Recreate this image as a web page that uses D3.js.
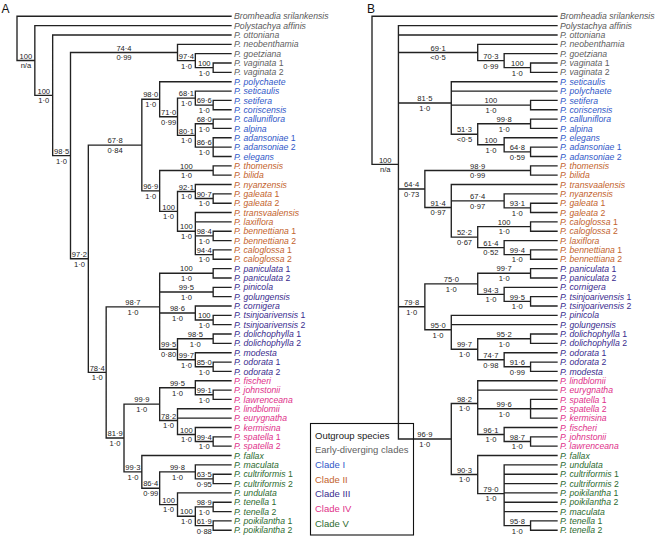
<!DOCTYPE html>
<html><head><meta charset="utf-8">
<script src="https://cdn.jsdelivr.net/npm/d3@7"></script>
<style>body{margin:0;background:#fff}svg{display:block}</style>
</head><body><svg id="c" width="657" height="538"></svg>
<script>
// ---- DATA ----
// Tree topologies (Newick); internal node labels = bootstrap/posterior
const treeA = "(Bromheadia srilankensis,(Polystachya affinis,(P. ottoniana,((P. neobenthamia,(P. goetziana,(P. vaginata 1,P. vaginata 2)100/1·0)97·4/1·0)74·4/0·99,(((P. polychaete,((P. seticaulis,(P. setifera,P. coriscensis)69·6/1·0)68·1/1·0,((P. calluniflora,P. alpina)68·0/1·0,(P. adansoniae 1,P. adansoniae 2,P. elegans)86·6/1·0)80·1/1·0)71·0/0·99)98·0/1·0,((P. thomensis,P. bilida)100/1·0,((P. nyanzensis,(P. galeata 1,P. galeata 2)90·7/1·0)92·1/1·0,(P. transvaalensis,P. laxiflora,(P. bennettiana 1,P. bennettiana 2)98·4/1·0,(P. caloglossa 1,P. caloglossa 2)94·4/1·0)100/1·0)100/1·0)96·9/1·0)67·8/0·84,(((P. paniculata 1,P. paniculata 2)100/1·0,(P. pinicola,P. golungensis)99·5/1·0,(P. cornigera,(P. tsinjoarivensis 1,P. tsinjoarivensis 2)100/1·0)98·6/1·0,((P. dolichophylla 1,P. dolichophylla 2)98·5/1·0,(P. modesta,(P. odorata 1,P. odorata 2)85·0/1·0)99·7/1·0)99·5/0·80)98·7/1·0,(((P. fischeri,(P. johnstonii,P. lawrenceana)99·1/1·0)99·5/1·0,(P. lindblomii,P. eurygnatha,(P. kermisina,(P. spatella 1,P. spatella 2)99·4/1·0)100/1·0)78·2/1·0)99·9/1·0,(P. fallax,((P. maculata,(P. cultriformis 1,P. cultriformis 2)63·5/0·95)99·8/1·0,(P. undulata,((P. tenella 1,P. tenella 2)98·9/1·0,(P. poikilantha 1,P. poikilantha 2)61·9/0·88)100/1·0)100/1·0)86·4/0·99)99·3/1·0)81·9/1·0)78·4/1·0)97·2/1·0)98·5/1·0)100/1·0)100/n/a);";

const treeB = "(Bromheadia srilankensis,(Polystachya affinis,P. ottoniana,(P. neobenthamia,(P. goetziana,(P. vaginata 1,P. vaginata 2)100/1·0)70·3/0·99)69·1/<0·5,(P. seticaulis,P. polychaete,(P. setifera,P. coriscensis)100/1·0,((P. calluniflora,P. alpina)99·8/1·0,(P. elegans,(P. adansoniae 1,P. adansoniae 2)64·8/0·59)100/1·0)51·3/<0·5)81·5/1·0,((P. thomensis,P. bilida)98·9/0·99,(P. transvaalensis,(P. nyanzensis,(P. galeata 1,P. galeata 2)93·1/1·0)67·4/0·97,((P. caloglossa 1,P. caloglossa 2)100/1·0,(P. laxiflora,(P. bennettiana 1,P. bennettiana 2)99·4/1·0)61·4/0·52)52·2/0·67)91·4/0·97)64·4/0·73,(((P. paniculata 1,P. paniculata 2)99·7/1·0,(P. cornigera,(P. tsinjoarivensis 1,P. tsinjoarivensis 2)99·5/1·0)94·3/1·0)75·0/1·0,(P. pinicola,P. golungensis,((P. dolichophylla 1,P. dolichophylla 2)95·2/1·0,(P. odorata 1,(P. odorata 2,P. modesta)91·6/0·99)74·7/0·98)99·7/1·0)95·0/1·0)79·8/1·0,((P. lindblomii,P. eurygnatha,(P. spatella 1,P. spatella 2,P. kermisina)99·6/1·0,(P. fischeri,(P. johnstonii,P. lawrenceana)98·7/1·0)96·1/1·0)98·2/1·0,(P. fallax,(P. undulata,P. cultriformis 1,P. cultriformis 2,P. poikilantha 1,P. poikilantha 2,P. maculata,(P. tenella 1,P. tenella 2)95·8/1·0)79·0/1·0)90·3/1·0)96·9/1·0)100/n/a);";

const outgroup = ["Bromheadia srilankensis", "Polystachya affinis"];
const earlyDiverging = ["P. ottoniana", "P. neobenthamia", "P. goetziana", "P. vaginata 1", "P. vaginata 2"];
const cladeI = ["P. polychaete", "P. seticaulis", "P. setifera", "P. coriscensis", "P. calluniflora", "P. alpina", "P. adansoniae 1", "P. adansoniae 2", "P. elegans"];
const cladeII = ["P. thomensis", "P. bilida", "P. nyanzensis", "P. galeata 1", "P. galeata 2", "P. transvaalensis", "P. laxiflora", "P. bennettiana 1", "P. bennettiana 2", "P. caloglossa 1", "P. caloglossa 2"];
const cladeIII = ["P. paniculata 1", "P. paniculata 2", "P. pinicola", "P. golungensis", "P. cornigera", "P. tsinjoarivensis 1", "P. tsinjoarivensis 2", "P. dolichophylla 1", "P. dolichophylla 2", "P. modesta", "P. odorata 1", "P. odorata 2"];
const cladeIV = ["P. fischeri", "P. johnstonii", "P. lawrenceana", "P. lindblomii", "P. eurygnatha", "P. kermisina", "P. spatella 1", "P. spatella 2"];
const cladeV = ["P. fallax", "P. maculata", "P. cultriformis 1", "P. cultriformis 2", "P. undulata", "P. tenella 1", "P. tenella 2", "P. poikilantha 1", "P. poikilantha 2"];
const legendLabels = ["Outgroup species", "Early-diverging clades", "Clade I", "Clade II", "Clade III", "Clade IV", "Clade V"];
const panelLabels = ["A", "B"];

// ---- STYLE ----
const legendColors = ["#1a1a1a", "#5f5f5f", "#3158c8", "#c3632d", "#3a2c8e", "#e0318a", "#2d6b30"];
const leafColors = ["#5a5a5a", "#5f5f5f", "#3158c8", "#c3632d", "#3a2c8e", "#e0318a", "#2d6b30"];
const groups = [outgroup, earlyDiverging, cladeI, cladeII, cladeIII, cladeIV, cladeV];
const colorOf = {};
groups.forEach((g, i) => g.forEach(n => colorOf[n] = leafColors[i]));
const FONT = "'Liberation Sans', Arial, Helvetica, sans-serif";

function parseNewick(s) {
  let i = 0;
  function node() {
    const n = {};
    if (s[i] === '(') {
      i++;
      n.children = [node()];
      while (s[i] === ',') { i++; n.children.push(node()); }
      i++;
    }
    const j = i;
    while (i < s.length && !",();".includes(s[i])) i++;
    n.name = s.slice(j, i).trim();
    return n;
  }
  return node();
}

const svg = d3.select("#c");
const nLeaves = 56, top0 = 16.3, step = 9.345;

function drawTree(str, x0, x1) {
  const root = d3.hierarchy(parseNewick(str));
  d3.cluster().size([nLeaves * step, x1 - x0]).separation(() => 1)(root);
  const yOff = top0 - step / 2;
  const X = d => x0 + d.y, Y = d => yOff + d.x;
  const g = svg.append("g");
  const path = d3.path();
  root.descendants().forEach(d => {
    if (d.parent) { path.moveTo(X(d.parent), Y(d)); path.lineTo(X(d), Y(d)); }
    if (d.children) {
      const ys = d.children.map(Y);
      path.moveTo(X(d), d3.min(ys)); path.lineTo(X(d), d3.max(ys));
    }
  });
  g.append("path").attr("d", path.toString()).attr("fill", "none")
    .attr("stroke", "#222").attr("stroke-width", 1.35).attr("stroke-linecap", "square");

  // support values
  root.descendants().filter(d => d.children && d.parent && d.data.name).forEach(d => {
    const k = d.data.name.indexOf("/");
    const bs = d.data.name.slice(0, k), pp = d.data.name.slice(k + 1);
    const mx = (X(d.parent) + X(d)) / 2;
    g.append("text").attr("x", mx).attr("y", Y(d) - 1.8).text(bs);
    g.append("text").attr("x", mx).attr("y", Y(d) + 7.9).text(pp);
  });
  g.selectAll("text").attr("text-anchor", "middle").attr("font-size", 7.6)
    .attr("font-family", FONT).attr("fill", "#222");

  // leaf labels
  root.leaves().forEach(d => {
    const m = d.data.name.match(/^(.*?)( \d)?$/);
    const t = svg.append("text").attr("x", x1 + 3).attr("y", Y(d) + 3.1)
      .attr("font-size", 8.7).attr("font-family", FONT).attr("fill", colorOf[d.data.name] || "#222");
    t.append("tspan").attr("font-style", "italic").text(m[1]);
    if (m[2]) t.append("tspan").text(m[2]);
  });
}

drawTree(treeA, 17, 231);
drawTree(treeB, 372, 557);

// panel letters
svg.selectAll(".panel").data(panelLabels).enter().append("text")
  .attr("x", (d, i) => i ? 367 : 1.5).attr("y", 13)
  .attr("font-size", 12).attr("font-family", FONT).attr("fill", "#111").text(d => d);

// legend
const lg = svg.append("g");
lg.append("rect").attr("x", 310.5).attr("y", 423.5).attr("width", 103).attr("height", 111.5)
  .attr("fill", "none").attr("stroke", "#111").attr("stroke-width", 1.1);
lg.selectAll("text").data(legendLabels).enter().append("text")
  .attr("x", 315).attr("y", (d, i) => 438.5 + i * 14.7)
  .attr("font-size", 9.5).attr("font-family", FONT)
  .attr("fill", (d, i) => legendColors[i]).text(d => d);
</script></body></html>
